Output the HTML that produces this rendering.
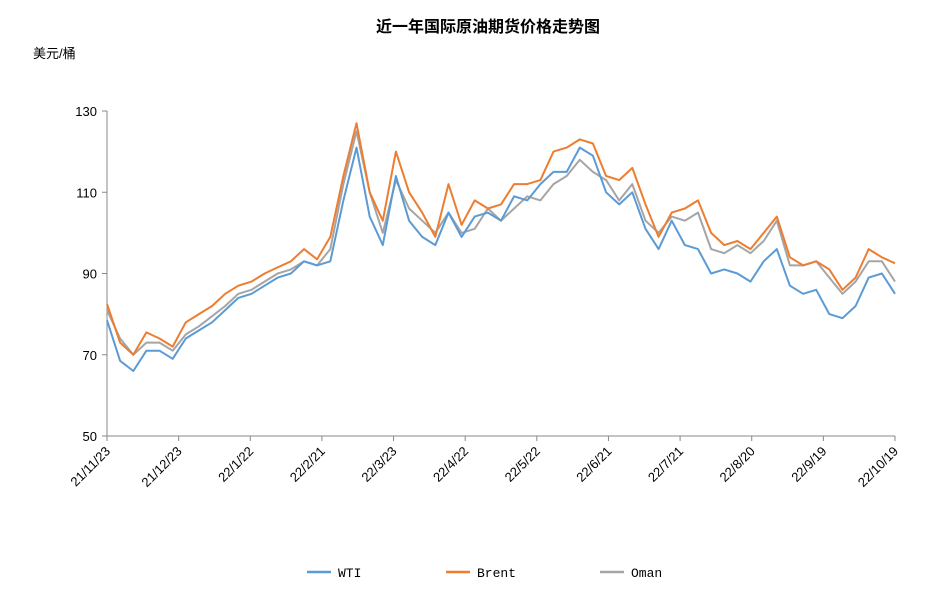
<!DOCTYPE html>
<html><head><meta charset="utf-8">
<style>
body{margin:0;background:#fff;width:937px;height:601px;overflow:hidden;font-family:"Liberation Sans","Noto Sans CJK SC",sans-serif}
</style></head><body>
<svg id="chart" width="937" height="601" xmlns="http://www.w3.org/2000/svg">
<text x="488" y="32" text-anchor="middle" font-size="16" font-weight="bold" font-family="Liberation Sans,Noto Sans CJK SC,sans-serif">近一年国际原油期货价格走势图</text>
<text x="33" y="58" font-size="13" font-family="Liberation Sans,Noto Sans CJK SC,sans-serif">美元/桶</text>
<g id="axes"></g>
<g id="series"></g>
<g font-size="13" font-family="Liberation Mono,monospace">
<line x1="307" y1="572" x2="331" y2="572" stroke="#5b9bd5" stroke-width="2.5"/>
<text x="338" y="577">WTI</text>
<line x1="446" y1="572" x2="470" y2="572" stroke="#ed7d31" stroke-width="2.5"/>
<text x="477" y="577">Brent</text>
<line x1="600" y1="572" x2="624" y2="572" stroke="#a5a5a5" stroke-width="2.5"/>
<text x="631" y="577">Oman</text>
</g>
</svg>
<script>
const xTickLabels=["21/11/23","21/12/23","22/1/22","22/2/21","22/3/23","22/4/22","22/5/22","22/6/21","22/7/21","22/8/20","22/9/19","22/10/19"];
const yTicks=[50,70,90,110,130];
const brent=[82.5,73,70,75.5,74,72,78,80,82,85,87,88,90,91.5,93,96,93.5,99,114,127,110,103,120,110,105,99,112,102,108,106,107,112,112,113,120,121,123,122,114,113,116,107,99,105,106,108,100,97,98,96,100,104,94,92,93,91,86,89,96,94,92.5];
const wti=[78.5,68.5,66,71,71,69,74,76,78,81,84,85,87,89,90,93,92,93,108,121,104,97,114,103,99,97,105,99,104,105,103,109,108,112,115,115,121,119,110,107,110,101,96,103,97,96,90,91,90,88,93,96,87,85,86,80,79,82,89,90,85];
const oman=[81,74,70,73,73,71,75,77,79.5,82,85,86,88,90,91,93,92,96,112,125,110,100,113,106,103,100,105,100,101,106,103,106,109,108,112,114,118,115,113,108,112,103,100,104,103,105,96,95,97,95,98,103,92,92,93,89,85,88,93,93,88];
const X0=107,X1=895,Y0=436,Y1=111,VMIN=50,VMAX=130;
const n=brent.length;
function xScale(i){return X0+(X1-X0)*i/(n-1);}
function yScale(v){return Y0-(v-VMIN)/(VMAX-VMIN)*(Y0-Y1);}
function tickX(k){return X0+(X1-X0)*k/(xTickLabels.length-1);}
const NS="http://www.w3.org/2000/svg";
const axes=document.getElementById('axes');
function mk(tag,attrs,parent){const e=document.createElementNS(NS,tag);for(const k in attrs)e.setAttribute(k,attrs[k]);parent.appendChild(e);return e;}
let l=mk('line',{x1:X0,y1:Y1,x2:X0,y2:Y0,stroke:'#888','stroke-width':1},axes);


l=mk('line',{x1:X0,y1:Y0,x2:X1,y2:Y0,stroke:'#888','stroke-width':1},axes);


yTicks.forEach(v=>{
  const y=yScale(v);
  const t=mk('line',{x1:X0-5,y1:y,x2:X0,y2:y,stroke:'#888'},axes);
  
  
  const tx=mk('text',{x:X0-10,y:y+5,'text-anchor':'end','font-size':13},axes);
  
  
  tx.textContent=v;
});
xTickLabels.forEach((s,k)=>{
  const x=tickX(k);
  const t=mk('line',{x1:x,y1:Y0,x2:x,y2:Y0+5,stroke:'#888'},axes);
  
  
  const tx=mk('text',{x:x+4,y:Y0+16,'text-anchor':'end','font-size':13,transform:`rotate(-45 ${x+4} ${Y0+16})`},axes);
  
  
  tx.textContent=s;
});
const sg=document.getElementById('series');
[[oman,'#a5a5a5','oman-line'],[wti,'#5b9bd5','wti-line'],[brent,'#ed7d31','brent-line']].forEach(([arr,c,name])=>{
  const p=mk('polyline',{points:arr.map((v,i)=>xScale(i).toFixed(1)+','+yScale(v).toFixed(1)).join(' '),fill:'none',stroke:c,'stroke-width':2,'stroke-linejoin':'round'},sg);
  
  
});
</script>
</body></html>
